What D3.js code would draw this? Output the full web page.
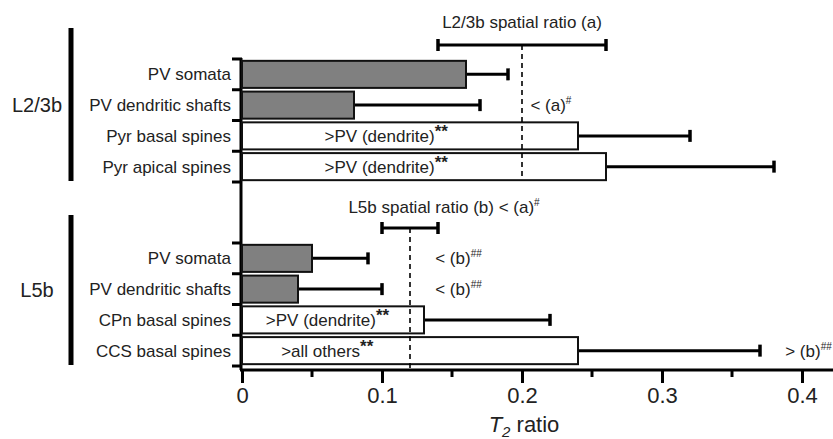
<!DOCTYPE html>
<html>
<head>
<meta charset="utf-8">
<script src="https://cdn.jsdelivr.net/npm/d3@7"></script>
<style>
  body { margin: 0; background: #fff; }
  svg { font-family: Arial, "Liberation Sans", sans-serif; }
</style>
</head>
<body>
<div id="viz"></div>
<script>
// T2 ratio per compartment, two layers
var groups = ["L2/3b", "L5b"];

var l23Cats = ["PV somata", "PV dendritic shafts", "Pyr basal spines", "Pyr apical spines"];
var l23Values = [0.16, 0.08, 0.24, 0.26];
var l23Err = [0.03, 0.09, 0.08, 0.12];

var l5Cats = ["PV somata", "PV dendritic shafts", "CPn basal spines", "CCS basal spines"];
var l5Values = [0.05, 0.04, 0.13, 0.24];
var l5Err = [0.04, 0.06, 0.09, 0.13];

// spatial ratio (mean, error) for each layer
var spatialLabels = ["L2/3b spatial ratio (a)", "L5b spatial ratio (b) < (a)"];
var spatialSup = ["", "#"];
var spatialMean = [0.2, 0.12];
var spatialErr = [0.06, 0.02];

var xTicks = [0, 0.1, 0.2, 0.3, 0.4];
var xMinor = [0.05, 0.15, 0.25, 0.35];

// significance notes: [group, category index, text, superscript, x in data units]
var notes = [
  [0, 1, "< (a)", "#", 0.206],
  [0, 2, ">PV (dendrite)", "**", 0.059],
  [0, 3, ">PV (dendrite)", "**", 0.059],
  [1, 0, "< (b)", "##", 0.138],
  [1, 1, "< (b)", "##", 0.138],
  [1, 2, ">PV (dendrite)", "**", 0.017],
  [1, 3, ">all others", "**", 0.028],
  [1, 3, "> (b)", "##", 0.388]
];

var width = 833, height = 439;
var svg = d3.select("#viz").append("svg")
  .attr("width", width).attr("height", height);

var x = d3.scaleLinear().domain([0, 0.42]).range([242, 830]);
var axisY = 370;

var bands = [
  d3.scaleBand().domain(l23Cats).range([59.3, 181.7]).paddingInner(0.12).paddingOuter(0.05),
  d3.scaleBand().domain(l5Cats).range([243.3, 365.7]).paddingInner(0.12).paddingOuter(0.05)
];
var allCats = [l23Cats, l5Cats];
var allVals = [l23Values, l5Values];
var allErr = [l23Err, l5Err];
var groupBar = [[28, 181], [215, 365]];
var spatialY = [45, 228];
var spatialTextY = [28, 213];

// x axis
var xAxis = d3.axisBottom(x).tickValues(xTicks)
  .tickFormat(function(d){ return d === 0 ? "0" : d3.format(".1f")(d); })
  .tickSize(13).tickPadding(4).tickSizeOuter(0);
var gx = svg.append("g").attr("transform", "translate(0," + axisY + ")").call(xAxis);
gx.select(".domain").attr("d", "M240," + 0 + "H833").attr("stroke-width", 3);
gx.selectAll(".tick line").attr("stroke-width", 3);
gx.selectAll(".tick text").attr("font-size", 22).attr("fill", "#222");
gx.selectAll(".minor").data(xMinor).enter().append("line")
  .attr("x1", function(d){ return x(d); }).attr("x2", function(d){ return x(d); })
  .attr("y1", 0).attr("y2", 7).attr("stroke", "#000").attr("stroke-width", 3);

// axis title
var title = svg.append("text").attr("x", 524).attr("y", 432)
  .attr("text-anchor", "middle").attr("font-size", 22).attr("fill", "#222");
title.append("tspan").attr("font-style", "italic").text("T");
title.append("tspan").attr("font-size", 15).attr("font-style", "italic").attr("dy", 5).text("2");
title.append("tspan").attr("dy", -5).text(" ratio");

// y axis line
svg.append("line").attr("x1", x(0) - 1).attr("x2", x(0) - 1)
  .attr("y1", 58).attr("y2", axisY)
  .attr("stroke", "#000").attr("stroke-width", 3);

groups.forEach(function(g, gi) {
  var y = bands[gi], cats = allCats[gi], vals = allVals[gi], errs = allErr[gi];
  var step = y.step();
  var layer = svg.append("g");

  // group bracket and label
  layer.append("line").attr("x1", 71).attr("x2", 71)
    .attr("y1", groupBar[gi][0]).attr("y2", groupBar[gi][1])
    .attr("stroke", "#000").attr("stroke-width", 5);
  layer.append("text").attr("x", 37)
    .attr("y", (groupBar[gi][0] + groupBar[gi][1]) / 2 + 7)
    .attr("text-anchor", "middle").attr("font-size", 20).attr("fill", "#222").text(g);

  // band boundary ticks
  var bounds = cats.map(function(c){ return y(c) - y.step() * y.paddingInner() / 2; });
  bounds.push(y(cats[cats.length - 1]) + y.bandwidth() + step * y.paddingInner() / 2);
  layer.selectAll(".ytick").data(bounds).enter().append("line")
    .attr("x1", 232).attr("x2", x(0))
    .attr("y1", function(d){ return d; }).attr("y2", function(d){ return d; })
    .attr("stroke", "#000").attr("stroke-width", 3);

  // category labels
  layer.selectAll(".cat").data(cats).enter().append("text")
    .attr("x", 231).attr("y", function(d){ return y(d) + y.bandwidth() / 2 + 6; })
    .attr("text-anchor", "end").attr("font-size", 17).attr("fill", "#222")
    .text(function(d){ return d; });

  // error bars
  cats.forEach(function(c, i) {
    var cy = y(c) + y.bandwidth() / 2;
    layer.append("line").attr("x1", x(vals[i])).attr("x2", x(vals[i] + errs[i]))
      .attr("y1", cy).attr("y2", cy).attr("stroke", "#000").attr("stroke-width", 3);
    layer.append("line").attr("x1", x(vals[i] + errs[i])).attr("x2", x(vals[i] + errs[i]))
      .attr("y1", cy - 6).attr("y2", cy + 6).attr("stroke", "#000").attr("stroke-width", 3.5);
  });

  // bars
  layer.selectAll(".bar").data(cats).enter().append("rect")
    .attr("x", x(0)).attr("y", function(d){ return y(d); })
    .attr("width", function(d, i){ return x(vals[i]) - x(0); })
    .attr("height", y.bandwidth())
    .attr("fill", function(d){ return d.indexOf("PV") === 0 ? "#808080" : "#fff"; })
    .attr("stroke", "#111").attr("stroke-width", 2);

  // spatial ratio
  var m = spatialMean[gi], e = spatialErr[gi], sy = spatialY[gi];
  layer.append("line").attr("x1", x(m)).attr("x2", x(m))
    .attr("y1", sy).attr("y2", gi === 0 ? 180 : axisY)
    .attr("stroke", "#000").attr("stroke-width", 1.6).attr("stroke-dasharray", "5,4");
  layer.append("line").attr("x1", x(m - e)).attr("x2", x(m + e))
    .attr("y1", sy).attr("y2", sy).attr("stroke", "#000").attr("stroke-width", 3);
  [m - e, m + e].forEach(function(v) {
    layer.append("line").attr("x1", x(v)).attr("x2", x(v))
      .attr("y1", sy - 6).attr("y2", sy + 6).attr("stroke", "#000").attr("stroke-width", 3.5);
  });
  var st = layer.append("text").attr("font-size", 17).attr("fill", "#222")
    .attr("y", spatialTextY[gi]);
  if (gi === 0) st.attr("x", x(m)).attr("text-anchor", "middle");
  else st.attr("x", x(0.076));
  st.append("tspan").text(spatialLabels[gi]);
  if (spatialSup[gi]) st.append("tspan").attr("font-size", 10).attr("dy", -7).text(spatialSup[gi]);
});

// significance notes
notes.forEach(function(n) {
  var y = bands[n[0]], c = allCats[n[0]][n[1]];
  var t = svg.append("text").attr("x", x(n[4]))
    .attr("y", y(c) + y.bandwidth() / 2 + 6)
    .attr("font-size", 17).attr("fill", "#222");
  t.append("tspan").text(n[2]);
  var big = n[3] === "**";
  t.append("tspan").attr("font-size", big ? 17 : 10).attr("font-weight", big ? "bold" : "normal")
    .attr("dy", big ? -5 : -7).text(n[3]);
});
</script>
</body>
</html>
